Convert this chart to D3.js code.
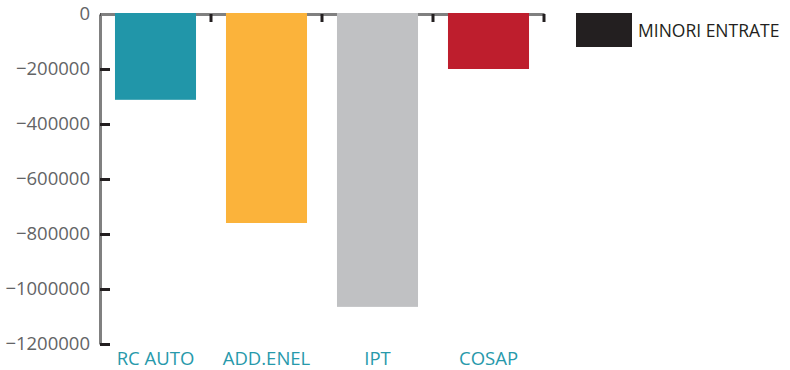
<!DOCTYPE html>
<html>
<head>
<meta charset="utf-8">
<script src="https://cdn.jsdelivr.net/npm/d3@7"></script>
<style>
  html, body { margin: 0; padding: 0; background: #fff; }
  svg { display: block; font-family: "Open Sans", sans-serif; }
</style>
</head>
<body>
<svg id="chart" width="790" height="370"></svg>
<script>
const categories = ["RC AUTO", "ADD.ENEL", "IPT", "COSAP"];
const values = [-312000, -760000, -1065000, -200000];
const colors = ["#2196A9", "#FBB33B", "#C0C1C3", "#BE1E2D"];
const yTicks = [0, -200000, -400000, -600000, -800000, -1000000, -1200000];
const seriesName = "MINORI ENTRATE";

(function () {
const svg = d3.select("#chart");
const mLeft = 100, mRight = 544, mTop = 14, mBottom = 344;

const x = d3.scaleBand().domain(categories).range([mLeft, mRight])
  .paddingInner(0.27).paddingOuter(0.135);
const y = d3.scaleLinear().domain([0, -1200000]).range([mTop, mBottom]);

// Y axis
const yAxis = svg.append("g").attr("transform", `translate(${mLeft},0)`)
  .call(d3.axisLeft(y).tickValues(yTicks).tickFormat(d3.format("d"))
    .tickSizeInner(-10).tickSizeOuter(0).tickPadding(10));
yAxis.select(".domain").attr("stroke", "#808080").attr("stroke-width", 3);
yAxis.selectAll(".tick line").attr("stroke", "#231F20").attr("stroke-width", 3);
yAxis.selectAll(".tick text").attr("fill", "#636466")
  .style("font-size", "18.5px").style("font-family", "'Open Sans', sans-serif");

// X axis line (top, at zero)
const xAxis = svg.append("g").attr("transform", `translate(0,${y(0)})`)
  .call(d3.axisBottom(x).tickSize(0).tickFormat(""));
xAxis.select(".domain").attr("stroke", "#808080").attr("stroke-width", 3);

// Bars
svg.append("g").selectAll("rect").data(values).join("rect")
  .attr("x", (d, i) => x(categories[i]))
  .attr("y", y(0) - 1)
  .attr("width", x.bandwidth())
  .attr("height", d => y(d) - y(0) + 1)
  .attr("fill", (d, i) => colors[i]);

// Category boundary ticks
const bounds = d3.range(categories.length + 1).map(i => mLeft + i * x.step());
svg.append("g").selectAll("line").data(bounds.slice(1)).join("line")
  .attr("x1", d => d).attr("x2", d => d)
  .attr("y1", y(0)).attr("y2", y(0) + 8)
  .attr("stroke", "#231F20").attr("stroke-width", 3);

// Category labels
const xLab = svg.append("g").attr("transform", `translate(0,${mBottom})`)
  .call(d3.axisBottom(x).tickSize(0).tickPadding(8));
xLab.select(".domain").remove();
xLab.selectAll(".tick text").attr("fill", "#2799AB")
  .style("font-size", "18.5px").style("font-family", "'Open Sans', sans-serif");

// Legend
const lg = svg.append("g");
lg.append("rect").attr("x", 576).attr("y", 13).attr("width", 56).attr("height", 34).attr("fill", "#231F20");
lg.append("text").attr("x", 638).attr("y", 37).text(seriesName)
  .attr("fill", "#231F20").style("font-size", "17.5px");
})();
</script>
</body>
</html>
